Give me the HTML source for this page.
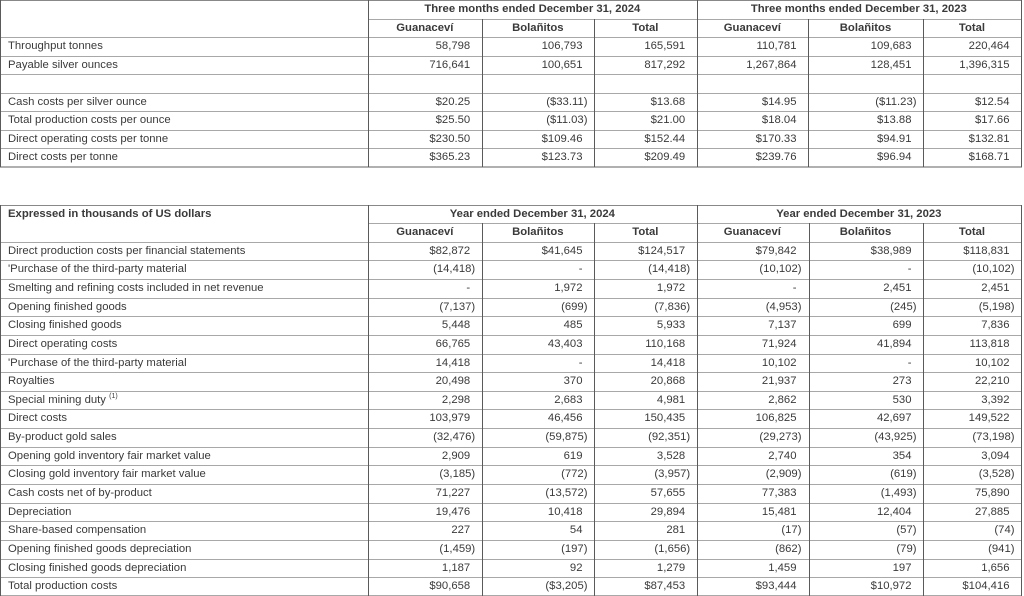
<!DOCTYPE html>
<html>
<head>
<meta charset="utf-8">
<style>
  html, body { margin:0; padding:0; background:#fff; }
  body { width:1024px; height:596px; position:relative; overflow:hidden;
         font-family:"Liberation Sans", Arial, sans-serif; font-size:11.3px; color:#3a3a3a; }
  .r { position:absolute; left:0; width:1022px; }
  .c { position:absolute; top:0; height:100%; white-space:nowrap; box-sizing:border-box; }
  .c0 { left:0; width:368px; padding-left:8px; text-align:left; }
  .c1 { left:368px; width:113.7px; }
  .c2 { left:481.7px; width:112.3px; }
  .c3 { left:594px; width:102.7px; }
  .c4 { left:696.7px; width:111.3px; }
  .c5 { left:808px; width:115px; }
  .c6 { left:923px; width:98px; }
  .num .c1, .num .c2, .num .c3, .num .c4, .num .c5, .num .c6 { text-align:right; padding-right:11.5px; }
  .n { margin-right:-5px; }
  .hd { font-weight:bold; text-align:center; }
  .hl { position:absolute; height:1px; background:#a8a8a8; }
  .vl { position:absolute; width:1px; background:#5a5a5a; }
  sup { font-size:7px; vertical-align:5px; line-height:0; }
</style>
</head>
<body>

<!-- ================= TABLE 1 ================= -->
<div class="hl" style="left:0;width:1022px;top:0;background:#888"></div>
<div class="hl" style="left:368px;width:654px;top:18.5px"></div>
<div class="hl" style="left:0;width:1022px;top:37px"></div>
<div class="hl" style="left:0;width:1022px;top:55.6px"></div>
<div class="hl" style="left:0;width:1022px;top:74.1px"></div>
<div class="hl" style="left:0;width:1022px;top:92.7px"></div>
<div class="hl" style="left:0;width:1022px;top:111.3px"></div>
<div class="hl" style="left:0;width:1022px;top:129.9px"></div>
<div class="hl" style="left:0;width:1022px;top:148.4px"></div>
<div class="hl" style="left:0;width:1022px;top:166px;height:2px;background:#b0b0b0"></div>
<div class="vl" style="left:0;top:0;height:167px"></div>
<div class="vl" style="left:368px;top:0;height:167px"></div>
<div class="vl" style="left:481.5px;top:18.5px;height:148.5px"></div>
<div class="vl" style="left:594px;top:18.5px;height:148.5px"></div>
<div class="vl" style="left:696.5px;top:0;height:167px"></div>
<div class="vl" style="left:808px;top:18.5px;height:148.5px"></div>
<div class="vl" style="left:923px;top:18.5px;height:148.5px"></div>
<div class="vl" style="left:1021px;top:0;height:167px"></div>

<div class="r" style="top:0;height:18.5px;line-height:18.5px">
  <div class="c hd" style="left:368px;width:328.7px">Three months ended December 31, 2024</div>
  <div class="c hd" style="left:696.7px;width:324.3px">Three months ended December 31, 2023</div>
</div>
<div class="r" style="top:18.5px;height:18.5px;line-height:18.5px">
  <div class="c c1 hd">Guanaceví</div><div class="c c2 hd">Bolañitos</div><div class="c c3 hd">Total</div>
  <div class="c c4 hd">Guanaceví</div><div class="c c5 hd">Bolañitos</div><div class="c c6 hd">Total</div>
</div>
<div class="r num" style="top:37px;height:18.6px;line-height:18.6px">
  <div class="c c0">Throughput tonnes</div>
  <div class="c c1">58,798</div><div class="c c2">106,793</div><div class="c c3">165,591</div>
  <div class="c c4">110,781</div><div class="c c5">109,683</div><div class="c c6">220,464</div>
</div>
<div class="r num" style="top:55.6px;height:18.6px;line-height:18.6px">
  <div class="c c0">Payable silver ounces</div>
  <div class="c c1">716,641</div><div class="c c2">100,651</div><div class="c c3">817,292</div>
  <div class="c c4">1,267,864</div><div class="c c5">128,451</div><div class="c c6">1,396,315</div>
</div>
<div class="r num" style="top:92.7px;height:18.6px;line-height:18.6px">
  <div class="c c0">Cash costs per silver ounce</div>
  <div class="c c1">$20.25</div><div class="c c2"><span class="n">($33.11)</span></div><div class="c c3">$13.68</div>
  <div class="c c4">$14.95</div><div class="c c5"><span class="n">($11.23)</span></div><div class="c c6">$12.54</div>
</div>
<div class="r num" style="top:111.3px;height:18.6px;line-height:18.6px">
  <div class="c c0">Total production costs per ounce</div>
  <div class="c c1">$25.50</div><div class="c c2"><span class="n">($11.03)</span></div><div class="c c3">$21.00</div>
  <div class="c c4">$18.04</div><div class="c c5">$13.88</div><div class="c c6">$17.66</div>
</div>
<div class="r num" style="top:129.9px;height:18.6px;line-height:18.6px">
  <div class="c c0">Direct operating costs per tonne</div>
  <div class="c c1">$230.50</div><div class="c c2">$109.46</div><div class="c c3">$152.44</div>
  <div class="c c4">$170.33</div><div class="c c5">$94.91</div><div class="c c6">$132.81</div>
</div>
<div class="r num" style="top:148.4px;height:18.6px;line-height:18.6px">
  <div class="c c0">Direct costs per tonne</div>
  <div class="c c1">$365.23</div><div class="c c2">$123.73</div><div class="c c3">$209.49</div>
  <div class="c c4">$239.76</div><div class="c c5">$96.94</div><div class="c c6">$168.71</div>
</div>

<!-- ================= TABLE 2 ================= -->
<div class="hl" style="left:0;width:1022px;top:205px;background:#888"></div>
<div class="hl" style="left:368px;width:654px;top:223px"></div>
<div class="hl" style="left:0;width:1022px;top:241.7px"></div>
<div class="hl" style="left:0;width:1022px;top:260.3px"></div>
<div class="hl" style="left:0;width:1022px;top:279px"></div>
<div class="hl" style="left:0;width:1022px;top:297.6px"></div>
<div class="hl" style="left:0;width:1022px;top:316.2px"></div>
<div class="hl" style="left:0;width:1022px;top:334.9px"></div>
<div class="hl" style="left:0;width:1022px;top:353.5px"></div>
<div class="hl" style="left:0;width:1022px;top:372.1px"></div>
<div class="hl" style="left:0;width:1022px;top:390.8px"></div>
<div class="hl" style="left:0;width:1022px;top:409.4px"></div>
<div class="hl" style="left:0;width:1022px;top:428px"></div>
<div class="hl" style="left:0;width:1022px;top:446.7px"></div>
<div class="hl" style="left:0;width:1022px;top:465.3px"></div>
<div class="hl" style="left:0;width:1022px;top:483.9px"></div>
<div class="hl" style="left:0;width:1022px;top:502.6px"></div>
<div class="hl" style="left:0;width:1022px;top:521.2px"></div>
<div class="hl" style="left:0;width:1022px;top:539.8px"></div>
<div class="hl" style="left:0;width:1022px;top:558.5px"></div>
<div class="hl" style="left:0;width:1022px;top:577.1px"></div>
<div class="hl" style="left:0;width:1022px;top:595px"></div>
<div class="vl" style="left:0;top:205px;height:391px"></div>
<div class="vl" style="left:368px;top:205px;height:391px"></div>
<div class="vl" style="left:481.5px;top:223px;height:373px"></div>
<div class="vl" style="left:594px;top:223px;height:373px"></div>
<div class="vl" style="left:696.5px;top:205px;height:391px"></div>
<div class="vl" style="left:808.5px;top:223px;height:373px"></div>
<div class="vl" style="left:922.5px;top:223px;height:373px"></div>
<div class="vl" style="left:1021px;top:205px;height:391px"></div>

<div class="r" style="top:205px;height:18px;line-height:18px">
  <div class="c c0" style="font-weight:bold">Expressed in thousands of US dollars</div>
  <div class="c hd" style="left:368px;width:328.7px">Year ended December 31, 2024</div>
  <div class="c hd" style="left:696.7px;width:324.3px">Year ended December 31, 2023</div>
</div>
<div class="r" style="top:223px;height:18.7px;line-height:18.7px">
  <div class="c c1 hd">Guanaceví</div><div class="c c2 hd">Bolañitos</div><div class="c c3 hd">Total</div>
  <div class="c c4 hd">Guanaceví</div><div class="c c5 hd">Bolañitos</div><div class="c c6 hd">Total</div>
</div>

<div class="r num" style="top:241.7px;height:18.6px;line-height:18.6px">
  <div class="c c0">Direct production costs per financial statements</div>
  <div class="c c1">$82,872</div><div class="c c2">$41,645</div><div class="c c3">$124,517</div>
  <div class="c c4">$79,842</div><div class="c c5">$38,989</div><div class="c c6">$118,831</div>
</div>
<div class="r num" style="top:260.3px;height:18.6px;line-height:18.6px">
  <div class="c c0">'Purchase of the third-party material</div>
  <div class="c c1"><span class="n">(14,418)</span></div><div class="c c2">-</div><div class="c c3"><span class="n">(14,418)</span></div>
  <div class="c c4"><span class="n">(10,102)</span></div><div class="c c5">-</div><div class="c c6"><span class="n">(10,102)</span></div>
</div>
<div class="r num" style="top:279px;height:18.6px;line-height:18.6px">
  <div class="c c0">Smelting and refining costs included in net revenue</div>
  <div class="c c1">-</div><div class="c c2">1,972</div><div class="c c3">1,972</div>
  <div class="c c4">-</div><div class="c c5">2,451</div><div class="c c6">2,451</div>
</div>
<div class="r num" style="top:297.6px;height:18.6px;line-height:18.6px">
  <div class="c c0">Opening finished goods</div>
  <div class="c c1"><span class="n">(7,137)</span></div><div class="c c2"><span class="n">(699)</span></div><div class="c c3"><span class="n">(7,836)</span></div>
  <div class="c c4"><span class="n">(4,953)</span></div><div class="c c5"><span class="n">(245)</span></div><div class="c c6"><span class="n">(5,198)</span></div>
</div>
<div class="r num" style="top:316.2px;height:18.6px;line-height:18.6px">
  <div class="c c0">Closing finished goods</div>
  <div class="c c1">5,448</div><div class="c c2">485</div><div class="c c3">5,933</div>
  <div class="c c4">7,137</div><div class="c c5">699</div><div class="c c6">7,836</div>
</div>
<div class="r num" style="top:334.9px;height:18.6px;line-height:18.6px">
  <div class="c c0">Direct operating costs</div>
  <div class="c c1">66,765</div><div class="c c2">43,403</div><div class="c c3">110,168</div>
  <div class="c c4">71,924</div><div class="c c5">41,894</div><div class="c c6">113,818</div>
</div>
<div class="r num" style="top:353.5px;height:18.6px;line-height:18.6px">
  <div class="c c0">'Purchase of the third-party material</div>
  <div class="c c1">14,418</div><div class="c c2">-</div><div class="c c3">14,418</div>
  <div class="c c4">10,102</div><div class="c c5">-</div><div class="c c6">10,102</div>
</div>
<div class="r num" style="top:372.1px;height:18.6px;line-height:18.6px">
  <div class="c c0">Royalties</div>
  <div class="c c1">20,498</div><div class="c c2">370</div><div class="c c3">20,868</div>
  <div class="c c4">21,937</div><div class="c c5">273</div><div class="c c6">22,210</div>
</div>
<div class="r num" style="top:390.8px;height:18.6px;line-height:18.6px">
  <div class="c c0">Special mining duty <sup>(1)</sup></div>
  <div class="c c1">2,298</div><div class="c c2">2,683</div><div class="c c3">4,981</div>
  <div class="c c4">2,862</div><div class="c c5">530</div><div class="c c6">3,392</div>
</div>
<div class="r num" style="top:409.4px;height:18.6px;line-height:18.6px">
  <div class="c c0">Direct costs</div>
  <div class="c c1">103,979</div><div class="c c2">46,456</div><div class="c c3">150,435</div>
  <div class="c c4">106,825</div><div class="c c5">42,697</div><div class="c c6">149,522</div>
</div>
<div class="r num" style="top:428px;height:18.6px;line-height:18.6px">
  <div class="c c0">By-product gold sales</div>
  <div class="c c1"><span class="n">(32,476)</span></div><div class="c c2"><span class="n">(59,875)</span></div><div class="c c3"><span class="n">(92,351)</span></div>
  <div class="c c4"><span class="n">(29,273)</span></div><div class="c c5"><span class="n">(43,925)</span></div><div class="c c6"><span class="n">(73,198)</span></div>
</div>
<div class="r num" style="top:446.7px;height:18.6px;line-height:18.6px">
  <div class="c c0">Opening gold inventory fair market value</div>
  <div class="c c1">2,909</div><div class="c c2">619</div><div class="c c3">3,528</div>
  <div class="c c4">2,740</div><div class="c c5">354</div><div class="c c6">3,094</div>
</div>
<div class="r num" style="top:465.3px;height:18.6px;line-height:18.6px">
  <div class="c c0">Closing gold inventory fair market value</div>
  <div class="c c1"><span class="n">(3,185)</span></div><div class="c c2"><span class="n">(772)</span></div><div class="c c3"><span class="n">(3,957)</span></div>
  <div class="c c4"><span class="n">(2,909)</span></div><div class="c c5"><span class="n">(619)</span></div><div class="c c6"><span class="n">(3,528)</span></div>
</div>
<div class="r num" style="top:483.9px;height:18.6px;line-height:18.6px">
  <div class="c c0">Cash costs net of by-product</div>
  <div class="c c1">71,227</div><div class="c c2"><span class="n">(13,572)</span></div><div class="c c3">57,655</div>
  <div class="c c4">77,383</div><div class="c c5"><span class="n">(1,493)</span></div><div class="c c6">75,890</div>
</div>
<div class="r num" style="top:502.6px;height:18.6px;line-height:18.6px">
  <div class="c c0">Depreciation</div>
  <div class="c c1">19,476</div><div class="c c2">10,418</div><div class="c c3">29,894</div>
  <div class="c c4">15,481</div><div class="c c5">12,404</div><div class="c c6">27,885</div>
</div>
<div class="r num" style="top:521.2px;height:18.6px;line-height:18.6px">
  <div class="c c0">Share-based compensation</div>
  <div class="c c1">227</div><div class="c c2">54</div><div class="c c3">281</div>
  <div class="c c4"><span class="n">(17)</span></div><div class="c c5"><span class="n">(57)</span></div><div class="c c6"><span class="n">(74)</span></div>
</div>
<div class="r num" style="top:539.8px;height:18.6px;line-height:18.6px">
  <div class="c c0">Opening finished goods depreciation</div>
  <div class="c c1"><span class="n">(1,459)</span></div><div class="c c2"><span class="n">(197)</span></div><div class="c c3"><span class="n">(1,656)</span></div>
  <div class="c c4"><span class="n">(862)</span></div><div class="c c5"><span class="n">(79)</span></div><div class="c c6"><span class="n">(941)</span></div>
</div>
<div class="r num" style="top:558.5px;height:18.6px;line-height:18.6px">
  <div class="c c0">Closing finished goods depreciation</div>
  <div class="c c1">1,187</div><div class="c c2">92</div><div class="c c3">1,279</div>
  <div class="c c4">1,459</div><div class="c c5">197</div><div class="c c6">1,656</div>
</div>
<div class="r num" style="top:577.1px;height:18.6px;line-height:18.6px">
  <div class="c c0">Total production costs</div>
  <div class="c c1">$90,658</div><div class="c c2"><span class="n">($3,205)</span></div><div class="c c3">$87,453</div>
  <div class="c c4">$93,444</div><div class="c c5">$10,972</div><div class="c c6">$104,416</div>
</div>

</body>
</html>
